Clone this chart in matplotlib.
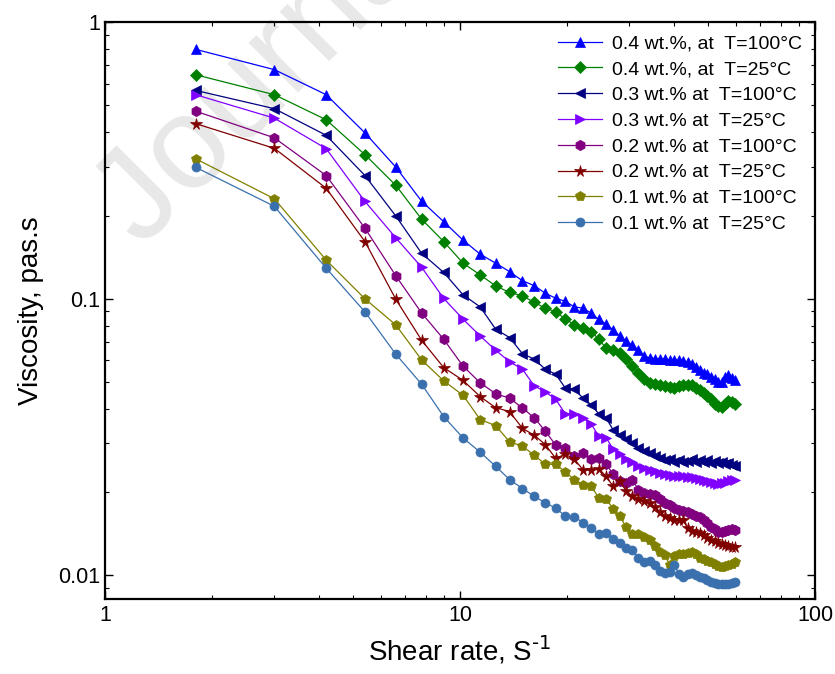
import numpy as np
import matplotlib
matplotlib.use('Agg')
import matplotlib.pyplot as plt
from matplotlib.ticker import FuncFormatter, NullFormatter

plt.rcParams['font.family'] = ['Liberation Sans', 'DejaVu Sans']

#%% data
shear = [1.8, 3.0, 4.2, 5.4, 6.6, 7.8, 9.0, 10.2, 11.4, 12.6, 13.8, 15.0, 16.2,
         17.4, 18.6, 19.8, 21.0, 22.2, 23.4, 24.6, 25.8, 27.0, 28.2, 29.4, 30.6,
         31.8, 33.0, 34.2, 35.4, 36.6, 37.8, 39.0, 40.2, 41.4, 42.6, 43.8, 45.0,
         46.2, 47.4, 48.6, 49.8, 51.0, 52.2, 53.4, 54.6, 55.8, 57.0, 58.2, 59.4]

visc_04_100 = [0.798, 0.674, 0.547, 0.398, 0.299, 0.2253, 0.190, 0.163, 0.145, 0.1346,
               0.1253, 0.1162, 0.1115, 0.1047, 0.1005, 0.0979, 0.0935, 0.0925, 0.0888, 0.0842,
               0.0811, 0.0772, 0.0734, 0.0704, 0.0679, 0.0654, 0.0622, 0.0611, 0.0608, 0.0606,
               0.0604, 0.0601, 0.0601, 0.0599, 0.0596, 0.0591, 0.0581, 0.0567, 0.0553, 0.0539,
               0.0535, 0.0522, 0.0513, 0.0500, 0.0500, 0.0522, 0.0530, 0.0517, 0.0509]
visc_04_25 = [0.646, 0.547, 0.444, 0.332, 0.257, 0.194, 0.161, 0.1346, 0.122, 0.1114,
              0.1054, 0.1025, 0.0970, 0.0925, 0.0897, 0.0846, 0.0805, 0.0781, 0.0761, 0.0716,
              0.0662, 0.0651, 0.0638, 0.0604, 0.0572, 0.0539, 0.0514, 0.0498, 0.0493, 0.0488,
              0.0484, 0.0480, 0.0474, 0.0482, 0.0486, 0.0488, 0.0486, 0.0476, 0.0468, 0.0457,
              0.0445, 0.0434, 0.0418, 0.0410, 0.0406, 0.0417, 0.0427, 0.0422, 0.0417]
visc_03_100 = [0.567, 0.487, 0.390, 0.279, 0.199, 0.146, 0.1245, 0.1034, 0.0935, 0.0777,
               0.0724, 0.0633, 0.0605, 0.0556, 0.0534, 0.0476, 0.0470, 0.0438, 0.0414, 0.0384,
               0.0371, 0.0336, 0.0322, 0.0312, 0.0302, 0.0289, 0.0281, 0.0277, 0.0270, 0.0266,
               0.0262, 0.0264, 0.0258, 0.0261, 0.0256, 0.0260, 0.0263, 0.0258, 0.0261, 0.0257,
               0.0261, 0.0255, 0.0259, 0.0254, 0.0257, 0.0253, 0.0254, 0.0250, 0.0248]
visc_03_25 = [0.547, 0.450, 0.349, 0.225, 0.166, 0.130, 0.1003, 0.0844, 0.0734, 0.0652,
              0.0592, 0.0556, 0.0484, 0.0461, 0.0433, 0.0384, 0.0382, 0.0372, 0.0353, 0.0319,
              0.0315, 0.0286, 0.0274, 0.0263, 0.0258, 0.0248, 0.0245, 0.0241, 0.0238, 0.0234,
              0.0232, 0.0230, 0.0229, 0.0228, 0.0228, 0.0227, 0.0226, 0.0224, 0.0223, 0.0222,
              0.0220, 0.0217, 0.0215, 0.0214, 0.0215, 0.0216, 0.0220, 0.0221, 0.0222]
visc_02_100 = [0.477, 0.382, 0.279, 0.180, 0.121, 0.0888, 0.0714, 0.0571, 0.0497, 0.0454,
               0.0437, 0.0403, 0.0371, 0.0332, 0.0296, 0.0289, 0.0270, 0.0277, 0.0263, 0.0266,
               0.0252, 0.0233, 0.0220, 0.0215, 0.0222, 0.0204, 0.0198, 0.0197, 0.0195, 0.0189,
               0.0182, 0.0179, 0.0175, 0.0173, 0.0171, 0.0169, 0.0166, 0.0164, 0.0162, 0.0159,
               0.0155, 0.0150, 0.0147, 0.0144, 0.0143, 0.0145, 0.0146, 0.0147, 0.0146]
visc_02_25 = [0.430, 0.350, 0.251, 0.161, 0.0995, 0.0708, 0.0564, 0.0507, 0.0443, 0.0404,
              0.0391, 0.0340, 0.0321, 0.0297, 0.0265, 0.0274, 0.0263, 0.0241, 0.0241, 0.0243,
              0.0228, 0.0210, 0.0219, 0.0202, 0.0193, 0.0189, 0.0185, 0.0183, 0.0176, 0.0170,
              0.0164, 0.0161, 0.0159, 0.0158, 0.0158, 0.0148, 0.0145, 0.0144, 0.0142, 0.0140,
              0.0137, 0.0134, 0.0133, 0.0131, 0.0130, 0.0129, 0.0128, 0.0127, 0.0127]
visc_01_100 = [0.321, 0.230, 0.138, 0.100, 0.0804, 0.0601, 0.0505, 0.0448, 0.0366, 0.0348,
               0.0304, 0.0293, 0.0272, 0.0252, 0.0252, 0.0237, 0.0222, 0.0213, 0.0210, 0.0191,
               0.0189, 0.0174, 0.0164, 0.0149, 0.0141, 0.0141, 0.0138, 0.0134, 0.0128, 0.0121,
               0.0118, 0.0109, 0.0117, 0.0119, 0.0119, 0.0120, 0.0121, 0.0119, 0.0116, 0.0115,
               0.0113, 0.0112, 0.0110, 0.0108, 0.0107, 0.0108, 0.0109, 0.0110, 0.0112]
visc_01_25 = [0.299, 0.216, 0.129, 0.0897, 0.063, 0.0491, 0.0375, 0.0314, 0.0279, 0.0248,
              0.0222, 0.0206, 0.0193, 0.0183, 0.0175, 0.0164, 0.0163, 0.0155, 0.0148, 0.0141,
              0.0142, 0.0135, 0.0131, 0.0126, 0.0123, 0.0116, 0.0112, 0.0113, 0.0109, 0.0104,
              0.0102, 0.0103, 0.0109, 0.0101, 0.0099, 0.0101, 0.0102, 0.0100, 0.0099, 0.0098,
              0.0096, 0.0095, 0.0094, 0.0093, 0.0093, 0.0093, 0.0093, 0.0094, 0.0095]

labels = ['0.4 wt.%, at  T=100\u00b0C', '0.4 wt.%, at  T=25\u00b0C',
          '0.3 wt.% at  T=100\u00b0C', '0.3 wt.% at  T=25\u00b0C',
          '0.2 wt.% at  T=100\u00b0C', '0.2 wt.% at  T=25\u00b0C',
          '0.1 wt.% at  T=100\u00b0C', '0.1 wt.% at  T=25\u00b0C']

#%% plot
series = [visc_04_100, visc_04_25, visc_03_100, visc_03_25,
          visc_02_100, visc_02_25, visc_01_100, visc_01_25]
colors = ['#0000ff', '#008000', '#000080', '#8000ff',
          '#800080', '#800000', '#808000', '#3a70ad']
markers = ['^', 'D', '<', '>', 'h', '*', 'p', 'o']
msizes = [7.5, 6, 7.5, 7.5, 7.5, 8.5, 7.5, 6.5]

fig = plt.figure(figsize=(8.35, 6.74), dpi=100)
ax = fig.add_axes([0.1257, 0.111, 0.8503, 0.856])
ax.patch.set_alpha(0)

# watermark
fig.text(0.17, 0.63, 'Journal Pre-proof', fontsize=95, color='#e8e8e8',
         rotation=45, rotation_mode='anchor', ha='left', va='baseline', zorder=-5)

for y, c, m, ms, lab in zip(series, colors, markers, msizes, labels):
    ax.plot(shear, y, color=c, marker=m, markersize=ms, linewidth=0.9,
            markeredgewidth=0.5, label=lab)

ax.set_xscale('log')
ax.set_yscale('log')
ax.set_xlim(1, 100)
ax.set_ylim(0.0082, 1.0)

fmt = FuncFormatter(lambda v, p: '%g' % v)
ax.xaxis.set_major_formatter(fmt)
ax.yaxis.set_major_formatter(fmt)
ax.xaxis.set_minor_formatter(NullFormatter())
ax.yaxis.set_minor_formatter(NullFormatter())
ax.tick_params(which='both', direction='in', top=True, right=True, labelsize=15.5)
ax.tick_params(which='major', length=6, width=1)
ax.tick_params(which='minor', length=3, width=0.8)
ax.tick_params(axis='x', pad=4)
for s in ax.spines.values():
    s.set_linewidth(1.6)

ax.set_xlabel('Shear rate, S$^{\\text{-1}}$', fontsize=20, labelpad=6)
ax.set_ylabel('Viscosity, pas.s', fontsize=20, labelpad=10)

ax.legend(loc='upper right', frameon=False, fontsize=14, handlelength=2.25,
          labelspacing=0.42, borderaxespad=0.35, handletextpad=0.55,
          borderpad=0.3)

fig.savefig('out.png', dpi=100)
